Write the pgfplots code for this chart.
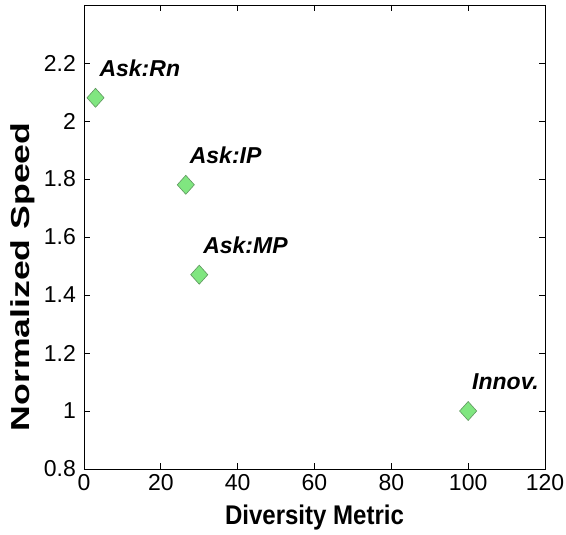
\documentclass[border=0pt]{standalone}
\usepackage{fontspec}
\setmainfont{Liberation Sans}
\usepackage{graphicx}
\usepackage{pgfplots}
\pgfplotsset{compat=1.18}
\definecolor{mkfill}{RGB}{128,230,128}
\definecolor{mkdraw}{RGB}{95,150,95}
\begin{document}
\begin{tikzpicture}
\begin{axis}[
  scale only axis, width=461pt, height=464pt,
  at={(0pt,0pt)}, anchor=south west,
  xmin=0, xmax=120, ymin=0.8, ymax=2.4,
  xtick={0,20,40,60,80,100,120},
  ytick={0.8,1,1.2,1.4,1.6,1.8,2,2.2},
  tick align=inside, major tick length=6pt,
  tick style={black, line width=0.7pt},
  axis line style={line width=0.8pt},
  /pgf/number format/assume math mode=true,
  ticklabel style={font=\fontsize{23}{23}\selectfont, inner sep=0pt},
  xticklabel style={yshift=-5pt},
  yticklabel style={xshift=-8pt},
  xlabel={\scalebox{0.89}[1]{Diversity Metric}},
  ylabel={\scalebox{1.37}[1]{Normalized Speed}},
  xlabel style={font=\fontsize{27}{27}\selectfont\bfseries, at={(axis description cs:0.5,-0.1207)}, anchor=base},
  ylabel style={font=\fontsize{26}{26}\selectfont\bfseries, at={(axis description cs:-0.132,0.414)}, anchor=center},
  clip=false,
]
\addplot[only marks, mark=diamond*, mark size=9.5pt,
  mark options={fill=mkfill, draw=mkdraw, line width=0.6pt, xscale=1.2}]
  coordinates {(3,2.08) (26.5,1.78) (30,1.47) (100,1.0)};
\begin{scope}[every node/.style={anchor=base west, yshift=21pt, xshift=0.5pt, font=\fontsize{23}{23}\selectfont\bfseries\itshape}]
\node at (axis cs:3,2.08) {Ask:Rn};
\node at (axis cs:26.5,1.78) {Ask:IP};
\node at (axis cs:30,1.47) {Ask:MP};
\node at (axis cs:100,1.0) {Innov.};
\end{scope}
\end{axis}
\pgfresetboundingbox
\useasboundingbox (-84pt,-66pt) rectangle (482pt,469pt);
\end{tikzpicture}
\end{document}
